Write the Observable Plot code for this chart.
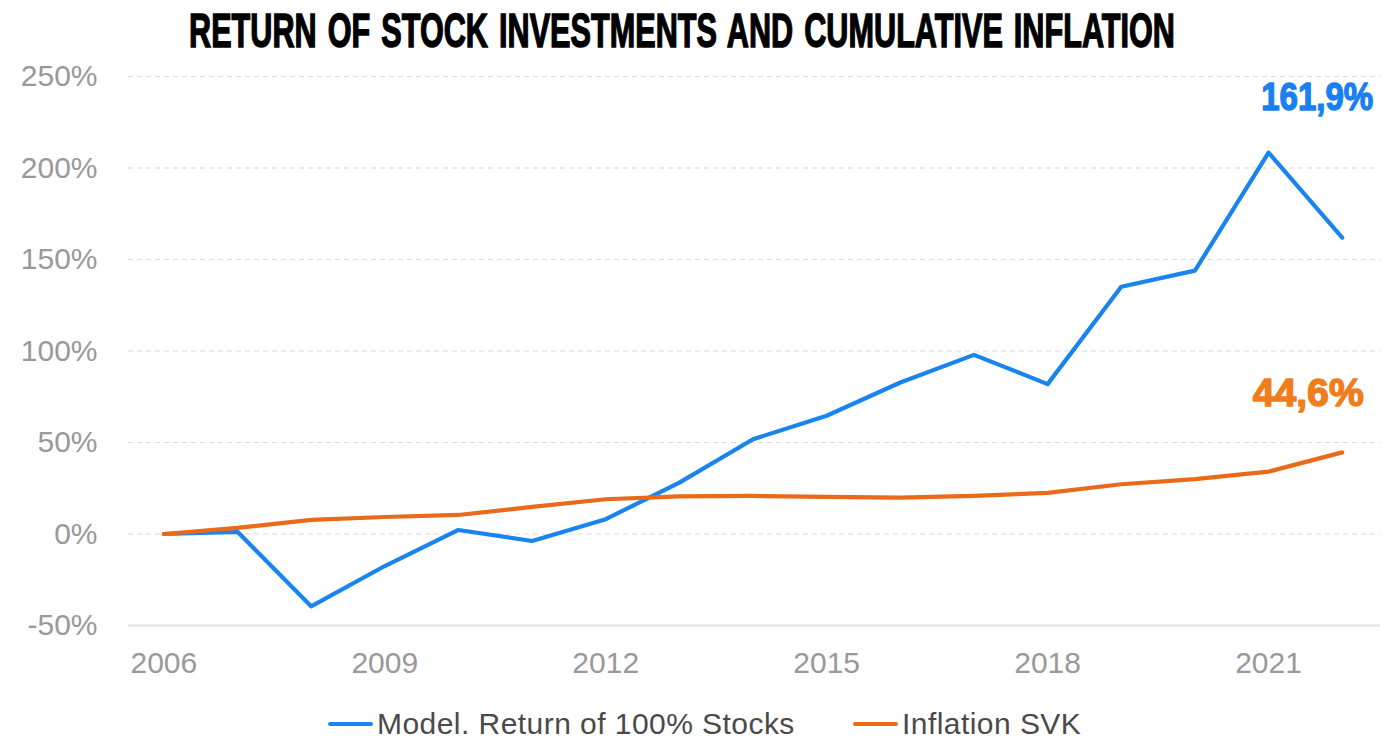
<!DOCTYPE html>
<html>
<head>
<meta charset="utf-8">
<script src="https://cdn.jsdelivr.net/npm/d3@7"></script>
<script src="https://cdn.jsdelivr.net/npm/@observablehq/plot@0.6"></script>
<style>
  html, body { margin: 0; padding: 0; background: #fff; }
  body { width: 1392px; height: 748px; overflow: hidden; position: relative; font-family: "Liberation Sans", Arial, sans-serif; }
  #titlebox { position: relative; height: 60px; width: 1392px; }
  #title { position: absolute; left: 189px; top: 2px; margin: 0; font-family: "Liberation Sans", Arial, sans-serif; font-weight: bold; font-size: 49px; line-height: 56px; color: #000; white-space: nowrap; transform-origin: 0 0; -webkit-text-stroke: 1.5px #000; word-spacing: 4px; }
  #chart svg { display: block; overflow: visible; }
  #legend { position: absolute; left: 0; top: 700px; width: 1392px; height: 48px; }
  .item { position: absolute; top: 0; height: 48px; display: flex; align-items: center; font-size: 30px; letter-spacing: 0.45px; color: #4a4a4a; white-space: nowrap; }
  .sw { width: 45px; height: 4px; border-radius: 2px; margin-right: 4px; }
</style>
</head>
<body>
<div id="titlebox"><div id="title">RETURN OF STOCK INVESTMENTS AND CUMULATIVE INFLATION</div></div>
<div id="chart"></div>
<div id="legend"></div>
<script>
const years = [2006, 2007, 2008, 2009, 2010, 2011, 2012, 2013, 2014, 2015, 2016, 2017, 2018, 2019, 2020, 2021, 2022];
const stocks = [0, 1.2, -39.5, -17.5, 2.2, -3.8, 8.1, 28.1, 51.8, 64.6, 82.8, 97.9, 81.9, 135.1, 143.9, 208.4, 161.9];
const inflation = [0, 3.3, 7.7, 9.3, 10.4, 14.8, 19.0, 20.6, 20.8, 20.3, 19.9, 20.8, 22.5, 27.2, 30.0, 34.1, 44.6];
const seriesNames = ["Model. Return of 100% Stocks", "Inflation SVK"];
const seriesColors = ["#1a84ee", "#ea6a1a"];
const labelColors = ["#1a7ff0", "#f07d1c"];
const xTicks = [2006, 2009, 2012, 2015, 2018, 2021];
const yTicks = [-50, 0, 50, 100, 150, 200, 250];
const gridTicks = [0, 50, 100, 150, 200, 250];
const endLabels = ["161,9%", "44,6%"];

// squeeze the title horizontally to the reference's condensed width
const titleEl = document.getElementById("title");
const natural = titleEl.getBoundingClientRect().width;
titleEl.style.transform = `scaleX(${986 / natural})`;

const data = [];
years.forEach((y, i) => {
  data.push({year: y, value: stocks[i], series: seriesNames[0]});
  data.push({year: y, value: inflation[i], series: seriesNames[1]});
});
const last = years.length - 1;
const endBlue = [{year: years[last], value: stocks[last], label: endLabels[0]}];
const endOrange = [{year: years[last], value: inflation[last], label: endLabels[1]}];

const annotStyle = {fontSize: 38, fontWeight: "bold", fontFamily: "Liberation Sans, Arial, sans-serif", textAnchor: "middle", lineAnchor: "middle", strokeWidth: 1.4, strokeLinejoin: "round"};

const chart = Plot.plot({
  width: 1392,
  height: 640,
  marginTop: 16,
  marginBottom: 75,
  marginLeft: 128,
  marginRight: 12,
  style: {background: "transparent", fontFamily: "Liberation Sans, Arial, sans-serif"},
  x: {type: "linear", domain: [2005.52, 2022.52], ticks: xTicks, tickFormat: d => String(d), tickSize: 0, tickPadding: 26, label: null},
  y: {domain: [-50, 250], ticks: yTicks, tickFormat: d => `${d}%`, tickSize: 0, tickPadding: 31, label: null},
  color: {domain: seriesNames, range: seriesColors},
  marks: [
    Plot.ruleY(gridTicks, {stroke: "#d9d9de", strokeWidth: 1.2, strokeDasharray: "5,4"}),
    Plot.ruleY([-50], {stroke: "#e2e2ea", strokeWidth: 2}),
    Plot.axisX({ticks: xTicks, tickFormat: d => String(d), tickSize: 0, tickPadding: 26, fontSize: 30, fill: "#999", label: null}),
    Plot.axisY({ticks: yTicks, tickFormat: d => `${d}%`, tickSize: 0, tickPadding: 31, fontSize: 30, fill: "#999", label: null}),
    Plot.line(data, {x: "year", y: "value", z: "series", stroke: "series", strokeWidth: 4.2, strokeLinejoin: "round", strokeLinecap: "round"}),
    Plot.text(endBlue, {...annotStyle, x: "year", y: "value", text: "label", dx: -25, dy: -140, fill: labelColors[0], stroke: labelColors[0], className: "annot-blue"}),
    Plot.text(endOrange, {...annotStyle, x: "year", y: "value", text: "label", dx: -34, dy: -59, fill: labelColors[1], stroke: labelColors[1], className: "annot-orange"})
  ]
});
document.getElementById("chart").appendChild(chart);

// condense the bold annotation labels to the reference's narrow width
[["annot-blue", 112], ["annot-orange", 111]].forEach(([cls, w]) => {
  chart.querySelectorAll(`.${cls} text`).forEach(t => {
    t.setAttribute("textLength", w);
    t.setAttribute("lengthAdjust", "spacingAndGlyphs");
  });
});

const legend = document.getElementById("legend");
const lefts = [328, 853];
seriesNames.forEach((name, i) => {
  const item = document.createElement("div");
  item.className = "item";
  item.style.left = lefts[i] + "px";
  const sw = document.createElement("div");
  sw.className = "sw";
  sw.style.background = seriesColors[i];
  const t = document.createElement("span");
  t.textContent = name;
  item.appendChild(sw);
  item.appendChild(t);
  legend.appendChild(item);
});
</script>
</body>
</html>
